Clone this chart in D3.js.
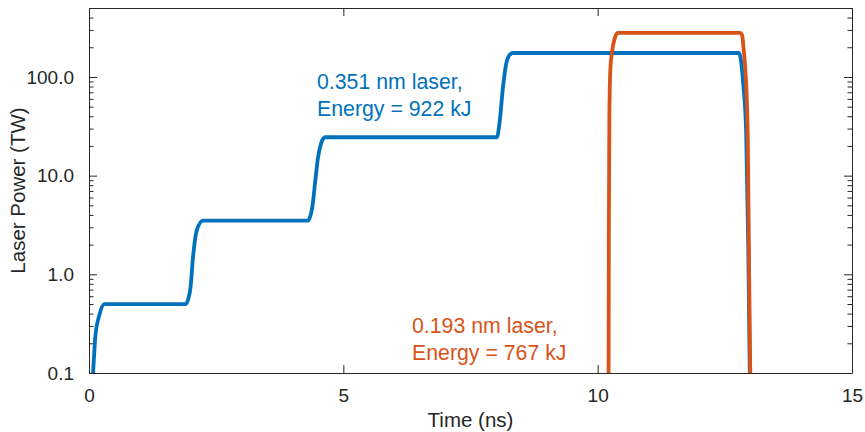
<!DOCTYPE html>
<html>
<head>
<meta charset="utf-8">
<script src="https://cdn.jsdelivr.net/npm/d3@7"></script>
<style>
  body { margin: 0; background: #fff; }
  text { font-family: "Liberation Sans", Arial, Helvetica, sans-serif; }
</style>
</head>
<body>
<div id="chart"></div>
<script>
// Chart size and plot box.
var width = 865;
var height = 432;
var margin = { top: 8, right: 13, bottom: 59, left: 89 };

// 0.351 nm laser pulse (time in ns, power in TW).
var blueTime  = [0.08, 0.13, 0.2, 0.3, 1.9, 1.99, 2.05, 2.12, 2.24, 4.3, 4.39, 4.45, 4.5, 4.56, 4.64,
                 8.02, 8.07, 8.14, 8.2, 8.26, 8.33, 12.78, 12.86, 12.92, 12.96, 12.99];
var bluePower = [0.1, 0.25, 0.38, 0.5, 0.5, 0.7, 1.6, 2.8, 3.5, 3.5, 4.8, 9, 15, 21, 24.5,
                 24.5, 34, 80, 135, 165, 175, 175, 87, 27, 2, 0.1];

// 0.193 nm laser pulse.
var orangeTime  = [10.215, 10.22, 10.23, 10.25, 10.29, 10.33, 10.39, 12.8, 12.84, 12.87, 12.9, 12.95, 12.98, 13.0];
var orangePower = [0.1, 3, 40, 120, 190, 240, 280, 280, 265, 190, 126, 27, 0.8, 0.1];

// Axis ticks.
var xTicks = [0, 5, 10, 15];
var yTicks = [0.1, 1, 10, 100];
var yTickLabels = ["0.1", "1.0", "10.0", "100.0"];

var blue = "#0072bd";
var orange = "#d95319";
var axisColor = "#262626";

var svg = d3.select("#chart").append("svg")
    .attr("width", width)
    .attr("height", height);

var x = d3.scaleLinear()
    .domain([0, 15])
    .range([margin.left, width - margin.right]);

var y = d3.scaleLog()
    .domain([0.1, 500])
    .range([height - margin.bottom, margin.top]);

// Minor ticks for the log axis: 2..9 of each decade.
var minorTicks = y.ticks().filter(function(d) {
  return yTicks.indexOf(d) < 0;
});

var line = d3.line()
    .x(function(d) { return x(d[0]); })
    .y(function(d) { return y(d[1]); })
    .curve(d3.curveMonotoneX);

var plot = svg.append("g");

plot.append("path")
    .datum(blueTime.map(function(t, i) { return [t, bluePower[i]]; }))
    .attr("d", line)
    .attr("fill", "none")
    .attr("stroke", blue)
    .attr("stroke-width", 3.8)
    .attr("stroke-linejoin", "round");

plot.append("path")
    .datum(orangeTime.map(function(t, i) { return [t, orangePower[i]]; }))
    .attr("d", line)
    .attr("fill", "none")
    .attr("stroke", orange)
    .attr("stroke-width", 3.8)
    .attr("stroke-linejoin", "round");

// Axes, ticks pointing inward (box style).
function styleAxis(g) {
  g.select(".domain").attr("stroke", axisColor).attr("stroke-width", 1);
  g.selectAll(".tick line").attr("stroke", axisColor).attr("stroke-width", 1);
  g.selectAll(".tick text")
      .attr("fill", axisColor)
      .style("font-size", "19px");
}

var xAxis = svg.append("g")
    .attr("transform", "translate(0," + (height - margin.bottom) + ")")
    .call(d3.axisBottom(x).tickValues(xTicks).tickSizeInner(-8).tickSizeOuter(0).tickPadding(16)
      .tickFormat(d3.format("d")));
styleAxis(xAxis);

var xAxisTop = svg.append("g")
    .attr("transform", "translate(0," + margin.top + ")")
    .call(d3.axisTop(x).tickValues(xTicks).tickSizeInner(-8).tickSizeOuter(0).tickFormat(""));
styleAxis(xAxisTop);

var yAxis = svg.append("g")
    .attr("transform", "translate(" + margin.left + ",0)")
    .call(d3.axisLeft(y).tickValues(yTicks).tickSizeInner(-8).tickSizeOuter(0).tickPadding(15)
      .tickFormat(function(d, i) { return yTickLabels[i]; }));
styleAxis(yAxis);

var yAxisMinor = svg.append("g")
    .attr("transform", "translate(" + margin.left + ",0)")
    .call(d3.axisLeft(y).tickValues(minorTicks).tickSizeInner(-4.5).tickSizeOuter(0).tickFormat(""));
styleAxis(yAxisMinor);
yAxisMinor.select(".domain").remove();

var yAxisRight = svg.append("g")
    .attr("transform", "translate(" + (width - margin.right) + ",0)")
    .call(d3.axisRight(y).tickValues(yTicks).tickSizeInner(-8).tickSizeOuter(0).tickFormat(""));
styleAxis(yAxisRight);

var yAxisRightMinor = svg.append("g")
    .attr("transform", "translate(" + (width - margin.right) + ",0)")
    .call(d3.axisRight(y).tickValues(minorTicks).tickSizeInner(-4.5).tickSizeOuter(0).tickFormat(""));
styleAxis(yAxisRightMinor);
yAxisRightMinor.select(".domain").remove();

// Axis titles
svg.append("text")
    .attr("x", (margin.left + width - margin.right) / 2)
    .attr("y", 427)
    .attr("text-anchor", "middle")
    .attr("fill", axisColor)
    .style("font-size", "20.5px")
    .text("Time (ns)");

svg.append("text")
    .attr("transform", "translate(25," + (margin.top + height - margin.bottom) / 2 + ") rotate(-90)")
    .attr("text-anchor", "middle")
    .attr("fill", axisColor)
    .style("font-size", "20.5px")
    .text("Laser Power (TW)");

// Annotations
function annotate(lines, color, px, py) {
  var t = svg.append("text")
      .attr("fill", color)
      .style("font-size", "21.3px");
  t.selectAll("tspan")
      .data(lines)
      .join("tspan")
      .attr("x", px)
      .attr("y", function(d, i) { return py + i * 26.5; })
      .text(function(d) { return d; });
}

annotate(["0.351 nm laser,", "Energy = 922 kJ"], blue, 317, 89);
annotate(["0.193 nm laser,", "Energy = 767 kJ"], orange, 412, 333);
</script>
</body>
</html>
